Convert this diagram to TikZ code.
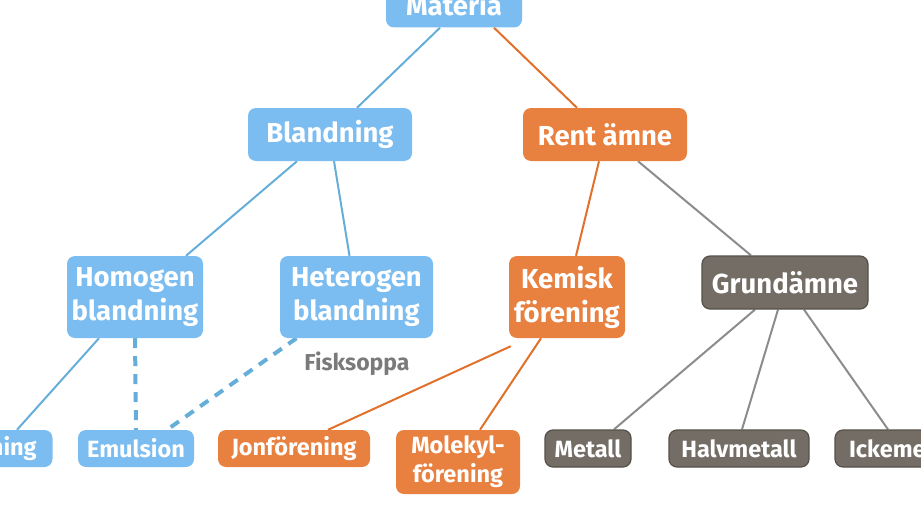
\documentclass[tikz,border=0pt]{standalone}
\usepackage{fontspec}
\setmainfont{Fira Sans}
\usetikzlibrary{backgrounds}
\definecolor{cblue}{HTML}{7BBDF0}
\definecolor{lblue}{HTML}{66AEDA}
\definecolor{corange}{HTML}{E8803F}
\definecolor{lorange}{HTML}{E0702A}
\definecolor{cgray}{HTML}{746D66}
\definecolor{dgray}{HTML}{55504A}
\definecolor{lgray}{HTML}{8C8C8C}
\definecolor{tgray}{HTML}{7A7A7A}
\tikzset{
  box/.style={rounded corners=8pt, inner sep=0pt, align=center, text=white,
    font=\bfseries\fontsize{27.5}{34}\selectfont},
  bluebox/.style={box, fill=cblue},
  orangebox/.style={box, fill=corange},
  graybox/.style={box, fill=cgray, draw=dgray, line width=1.2pt},
  small/.style={font=\bfseries\fontsize{23.5}{29}\selectfont},
  bline/.style={draw=lblue, line width=2pt},
  oline/.style={draw=lorange, line width=2pt},
  gline/.style={draw=lgray, line width=2pt},
  dline/.style={draw=lblue, line width=4pt, dash pattern=on 10pt off 8pt},
}
\begin{document}
\begin{tikzpicture}[x=1pt,y=-1pt]
\useasboundingbox (0,0) rectangle (921,519);
\clip (0,0) rectangle (921,519);
\node[bluebox, minimum width=136pt, minimum height=54pt, text height=36pt, text depth=6pt] (mat) at (454,0.5) {Materia};
\node[bluebox, minimum width=164pt, minimum height=53pt] (bl) at (330,134.5) {Blandning};
\node[orangebox, minimum width=164pt, minimum height=53pt] (re) at (605,134.5) {Rent ämne};
\node[bluebox, minimum width=136pt, minimum height=82pt] (ho) at (135,297) {Homogen\\blandning};
\node[bluebox, minimum width=153pt, minimum height=82pt] (he) at (356.5,297) {Heterogen\\blandning};
\node[orangebox, minimum width=116pt, minimum height=82pt] (ke) at (567,297) {Kemisk\\förening};
\node[graybox, minimum width=166pt, minimum height=53pt] (gr) at (785,282.5) {Grundämne};
\node[text=tgray, font=\bfseries\fontsize{23}{27}\selectfont, inner sep=0pt] (fi) at (357,364) {Fisksoppa};
\node[bluebox, small, minimum width=115pt, minimum height=37pt] (lo) at (-5,448.5) {Lösning};
\node[bluebox, small, minimum width=116pt, minimum height=37pt] (em) at (136,448.5) {Emulsion};
\node[orangebox, small, minimum width=152pt, minimum height=37pt] (jo) at (294,448.5) {Jonförening};
\node[orangebox, small, minimum width=124pt, minimum height=64pt] (mo) at (458,462) {Molekyl-\\förening};
\node[graybox, small, minimum width=86pt, minimum height=37pt] (me) at (588,448.5) {Metall};
\node[graybox, small, minimum width=140pt, minimum height=37pt] (ha) at (739,448.5) {Halvmetall};
\node[graybox, small, minimum width=140pt, minimum height=37pt] (ic) at (905,448.5) {Ickemetall};
\begin{scope}[on background layer]
\draw[bline] ([xshift=-14pt]mat.south) -- ([xshift=27pt]bl.north);
\draw[oline] ([xshift=40pt]mat.south) -- ([xshift=-28pt]re.north);
\draw[bline] ([xshift=-33pt]bl.south) -- ([xshift=51pt]ho.north);
\draw[bline] ([xshift=4pt]bl.south) -- ([xshift=-7pt]he.north);
\draw[oline] ([xshift=-6pt]re.south) -- ([xshift=9pt]ke.north);
\draw[gline] ([xshift=33pt]re.south) -- ([xshift=-34pt]gr.north);
\draw[bline] ([xshift=-36pt]ho.south) -- ([xshift=22pt]lo.north);
\draw[dline] (ho.south) -- (em.north);
\draw[dline] ([xshift=-60pt]he.south) -- ([xshift=31pt]em.north);
\draw[oline] ([xshift=2pt,yshift=-8pt]ke.south west) -- ([xshift=34pt]jo.north);
\draw[oline] ([xshift=-26pt]ke.south) -- ([xshift=22pt]mo.north);
\draw[gline] ([xshift=-30pt]gr.south) -- ([xshift=26pt]me.north);
\draw[gline] ([xshift=-7pt]gr.south) -- ([xshift=3pt]ha.north);
\draw[gline] ([xshift=19pt]gr.south) -- ([xshift=-17pt]ic.north);
\end{scope}
\end{tikzpicture}
\end{document}
